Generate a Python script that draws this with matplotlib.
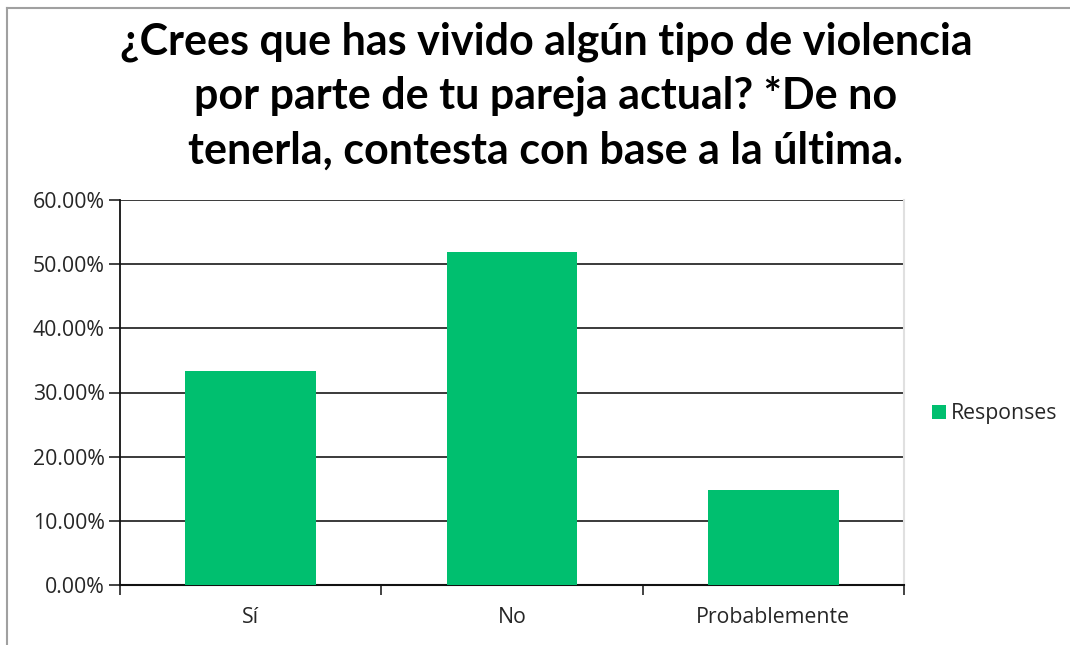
import matplotlib
matplotlib.use("Agg")
import matplotlib.pyplot as plt
from matplotlib.lines import Line2D
from matplotlib.patches import Patch
from matplotlib.ticker import FuncFormatter

categories = ["Sí", "No", "Probablemente"]
values = [33.33, 51.85, 14.81]
yticks = [0, 10, 20, 30, 40, 50, 60]
series_name = "Responses"
title = ("¿Crees que has vivido algún tipo de violencia\n"
         "por parte de tu pareja actual? *De no\n"
         "tenerla, contesta con base a la última.")

GREEN = "#00BF6F"
TFONT = "Lato"
FONT = "Open Sans"
LSIZE = 15.3

fig = plt.figure(figsize=(10.7, 6.45), dpi=100)
fig.patch.set_facecolor("white")

# outer frame lines (top and left)
fig.add_artist(Line2D([6.5/1070, 1.0], [1 - 7.5/645, 1 - 7.5/645], color="#a0a0a0", lw=1.5, transform=fig.transFigure))
fig.add_artist(Line2D([6.5/1070, 6.5/1070], [0, 1 - 7.5/645], color="#a0a0a0", lw=1.5, transform=fig.transFigure))

ax = fig.add_axes([120/1070, 1 - 585/645, (904 - 120)/1070, (585 - 200)/645])
x = range(len(categories))
ax.bar(x, values, width=0.5, color=GREEN, zorder=3)
ax.set_xlim(-0.5, len(categories) - 0.5)
ax.set_ylim(0, 60)
ax.set_yticks(yticks)
ax.yaxis.set_major_formatter(FuncFormatter(lambda v, p: f"{v:.2f}%"))
ax.set_xticks(list(x))
ax.set_xticklabels(categories)
ax.tick_params(axis="x", length=0, pad=16, labelsize=LSIZE, labelcolor="#262626")
ax.tick_params(axis="y", length=8, width=1.2, color="#222222", pad=3, labelsize=LSIZE, labelcolor="#262626")
for lbl in ax.get_xticklabels() + ax.get_yticklabels():
    lbl.set_family(FONT)

# ticks at category boundaries on x-axis
ax.set_xticks([-0.5, 0.5, 1.5, 2.5], minor=True)
ax.tick_params(axis="x", which="minor", length=7, width=1.2, color="#222222", direction="out")

ax.grid(axis="y", color="#3a3a3a", lw=1.4, zorder=1)
ax.set_axisbelow(True)
ax.spines["top"].set_visible(False)
ax.spines["right"].set_color("#e0e0e0")
ax.spines["right"].set_linewidth(1.5)
ax.spines["left"].set_color("#111111")
ax.spines["left"].set_linewidth(1.3)
ax.spines["bottom"].set_color("#111111")
ax.spines["bottom"].set_linewidth(1.5)

fig.text(546/1070, 1 - 96/645, title, ha="center", va="center", fontsize=31, fontweight="bold",
         family=TFONT, color="#000000", linespacing=1.42)

leg = fig.legend(handles=[Patch(facecolor=GREEN, edgecolor="none", label=series_name)],
                 loc="center left", bbox_to_anchor=(913/1070, 1 - 414/645), frameon=False,
                 handlelength=0.65, handleheight=0.65, handletextpad=0.25,
                 prop={"family": FONT, "size": LSIZE})
for t in leg.get_texts():
    t.set_color("#262626")

fig.savefig("out.png", dpi=100, facecolor="white")
